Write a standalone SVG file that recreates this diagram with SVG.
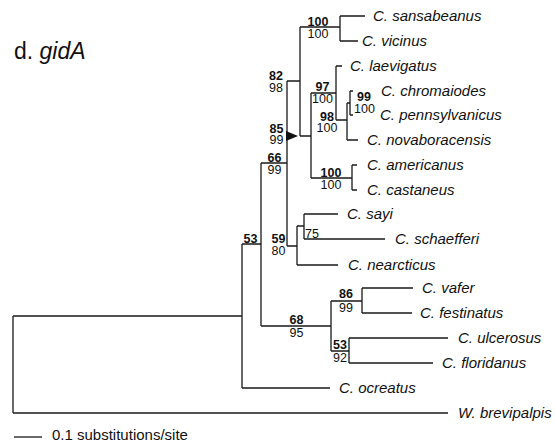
<svg xmlns="http://www.w3.org/2000/svg" width="555" height="442" viewBox="0 0 555 442">
<style>
.br{fill:none;stroke:#1a1a1a;stroke-width:1.3}
.tx{font-family:"Liberation Sans",Arial,Helvetica,sans-serif;font-size:15px;font-style:italic;fill:#111}
.b{font-family:"Liberation Sans",Arial,Helvetica,sans-serif;font-size:12.5px;font-weight:bold;fill:#111}
.n{font-family:"Liberation Sans",Arial,Helvetica,sans-serif;font-size:12.5px;fill:#111}
.m{text-anchor:middle}
.e{text-anchor:end}
</style>
<rect width="555" height="442" fill="#fff"/>
<g id="title"><text x="14" y="59" style="font-family:'Liberation Sans',Arial,sans-serif;font-size:23px;fill:#111">d. <tspan font-style="italic">gidA</tspan></text></g>
<g id="connectors">
<path class="br" d="M13,316V413M13,316H242M13,413H448"/>
<path class="br" d="M242,244V388M242,244H261M242,388H330"/>
<path class="br" d="M261,163V326M261,163H287M261,326H331"/>
<path class="br" d="M287,81V246M287,81H300M287,246H297"/>
<path class="br" d="M300,27V136M300,27H340M300,136H311"/>
<path class="br" d="M340,16V41M340,16H365M340,41H358"/>
<path class="br" d="M311,93V178M311,93H336M311,178H352"/>
<path class="br" d="M336,66V120M336,66H342M336,120H347"/>
<path class="br" d="M347,103V140M347,103H350M347,140H358"/>
<path class="br" d="M350,91V115M350,91H353M350,115H353"/>
<path class="br" d="M352,165V190M352,165H357M352,190H357"/>
<path class="br" d="M297,226V265M297,226H304M297,265H338"/>
<path class="br" d="M304,214V239M304,214H338M304,239H385"/>
<path class="br" d="M331,301V351M331,301H362M331,351H349"/>
<path class="br" d="M362,288V313M362,288H413M362,313H412"/>
<path class="br" d="M349,338V363M349,338H448M349,363H433"/>
<polygon points="286,131 298,136 286,141" fill="#111"/>
</g>
<g id="taxon-sansabeanus"><text class="tx" x="373" y="21">C. sansabeanus</text></g>
<g id="taxon-vicinus"><text class="tx" x="362" y="46">C. vicinus</text></g>
<g id="taxon-laevigatus"><text class="tx" x="350" y="71">C. laevigatus</text></g>
<g id="taxon-chromaiodes"><text class="tx" x="381" y="96">C. chromaiodes</text></g>
<g id="taxon-pennsylvanicus"><text class="tx" x="380" y="120">C. pennsylvanicus</text></g>
<g id="taxon-novaboracensis"><text class="tx" x="367" y="145">C. novaboracensis</text></g>
<g id="taxon-americanus"><text class="tx" x="367" y="170">C. americanus</text></g>
<g id="taxon-castaneus"><text class="tx" x="367" y="195">C. castaneus</text></g>
<g id="taxon-sayi"><text class="tx" x="347" y="219">C. sayi</text></g>
<g id="taxon-schaefferi"><text class="tx" x="395" y="244">C. schaefferi</text></g>
<g id="taxon-nearcticus"><text class="tx" x="348" y="270">C. nearcticus</text></g>
<g id="taxon-vafer"><text class="tx" x="422" y="293">C. vafer</text></g>
<g id="taxon-festinatus"><text class="tx" x="420" y="318">C. festinatus</text></g>
<g id="taxon-ulcerosus"><text class="tx" x="458" y="343">C. ulcerosus</text></g>
<g id="taxon-floridanus"><text class="tx" x="442" y="368">C. floridanus</text></g>
<g id="taxon-ocreatus"><text class="tx" x="339" y="393">C. ocreatus</text></g>
<g id="taxon-brevipalpis"><text class="tx" x="458" y="418">W. brevipalpis</text></g>
<g id="node-sv"><text class="b m" x="318" y="25.5">100</text><text class="n m" x="318" y="38">100</text></g>
<g id="node-82"><text class="b m" x="276" y="80">82</text><text class="n m" x="276" y="92">98</text></g>
<g id="node-97"><text class="b m" x="322.5" y="91">97</text><text class="n m" x="322.5" y="103">100</text></g>
<g id="node-98"><text class="b m" x="327" y="121">98</text><text class="n m" x="327" y="132">100</text></g>
<g id="node-99"><text class="b" x="357" y="101">99</text><text class="n" x="354" y="113">100</text></g>
<g id="node-85"><text class="b m" x="276.5" y="133">85</text><text class="n m" x="276.5" y="144">99</text></g>
<g id="node-66"><text class="b m" x="274.5" y="161.5">66</text><text class="n m" x="274.5" y="173.5">99</text></g>
<g id="node-ac"><text class="b m" x="331" y="177">100</text><text class="n m" x="331" y="189">100</text></g>
<g id="node-53a"><text class="b m" x="250.5" y="243">53</text></g>
<g id="node-59"><text class="b m" x="278.5" y="243">59</text><text class="n m" x="278.5" y="255">80</text></g>
<g id="node-75"><text class="n" x="305" y="238">75</text></g>
<g id="node-68"><text class="b m" x="296.5" y="324">68</text><text class="n m" x="296.5" y="337">95</text></g>
<g id="node-86"><text class="b m" x="346" y="298">86</text><text class="n m" x="346" y="312">99</text></g>
<g id="node-53b"><text class="b m" x="340" y="349">53</text><text class="n m" x="340" y="362">92</text></g>
<g id="scale"><path class="br" d="M14,437H42"/><text x="52" y="440" style="font-family:'Liberation Sans',Arial,sans-serif;font-size:15px;fill:#111">0.1 substitutions/site</text></g>
</svg>
